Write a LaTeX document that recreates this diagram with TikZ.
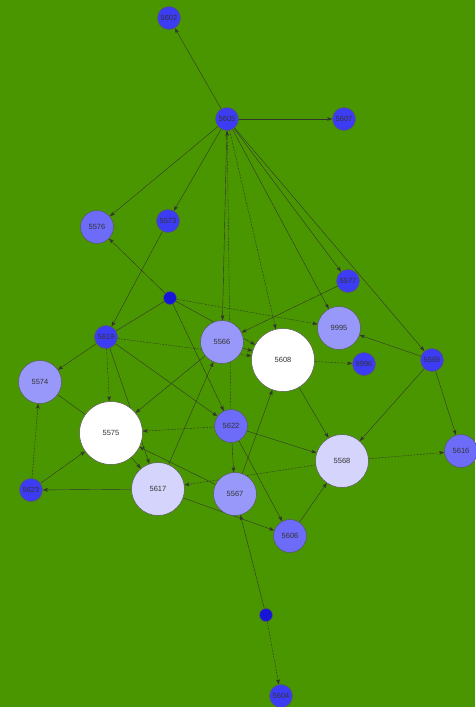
\documentclass[tikz,border=0pt]{standalone}
\usepackage{fontspec}
\setmainfont{Liberation Sans}
\usetikzlibrary{arrows.meta}

\definecolor{field}{RGB}{74,150,0}
\definecolor{deg1}{RGB}{60,60,245}
\definecolor{deg2}{RGB}{108,108,248}
\definecolor{deg3}{RGB}{152,152,250}
\definecolor{deg4}{RGB}{212,212,252}
\definecolor{seed}{RGB}{22,22,215}
\definecolor{wire}{RGB}{50,55,45}

% edges go under the vertices
\pgfdeclarelayer{wires}
\pgfsetlayers{wires,main}

\tikzset{
  vtx/.style={circle,draw=black!65,line width=0.5pt,inner sep=0pt,
    font=\fontsize{7.5}{8}\selectfont,text=black!80},
  tiny/.style={vtx,minimum size=13pt,fill=seed},
  small/.style={vtx,minimum size=23pt,fill=deg1},
  mid/.style={vtx,minimum size=33pt,fill=deg2},
  big/.style={vtx,minimum size=43pt,fill=deg3},
  bigger/.style={vtx,minimum size=53pt,fill=deg4},
  huge/.style={vtx,minimum size=63pt,fill=white},
  link/.style={draw=wire,line width=0.4pt,-{Stealth[length=5pt,width=3.6pt,inset=1pt]}},
  dlink/.style={link,dash pattern=on 2pt off 1.2pt},
  bare/.style={draw=wire,line width=0.4pt}
}

\begin{document}
\begin{tikzpicture}[x=1pt,y=-1pt]
  \useasboundingbox (0,0) rectangle (475,707);

  % vertices
  \node[small]  (n5602) at (169,18)  {5602};
  \node[small]  (n5605) at (227,119) {5605};
  \node[small]  (n5607) at (344,119) {5607};
  \node[mid]    (n5576) at (97,227)  {5576};
  \node[small]  (n5573) at (168,221) {5573};
  \node[small]  (n5577) at (348,281) {5577};
  \node[tiny]   (nx1)   at (170,298) {};
  \node[big]    (n9995) at (339,328) {9995};
  \node[small]  (n5619) at (106,337) {5619};
  \node[big]    (n5566) at (222,342) {5566};
  \node[huge]   (n5608) at (283,360) {5608};
  \node[small]  (n9996) at (364,364) {9996};
  \node[small]  (n5565) at (432,360) {5565};
  \node[big]    (n5574) at (40,382)  {5574};
  \node[huge]   (n5575) at (111,433) {5575};
  \node[mid]    (n5622) at (231,426) {5622};
  \node[bigger] (n5568) at (342,461) {5568};
  \node[mid]    (n5616) at (461,451) {5616};
  \node[small]  (n5623) at (31,490)  {5623};
  \node[bigger] (n5617) at (158,489) {5617};
  \node[big]    (n5567) at (235,494) {5567};
  \node[mid]    (n5606) at (290,536) {5606};
  \node[tiny]   (nx2)   at (266,615) {};
  \node[small]  (n5604) at (281,696) {5604};

  \begin{pgfonlayer}{wires}
    \fill[field] (0,0) rectangle (475,707);
    % directed edges
    \foreach \a/\b in {5605/5602,5605/5607,5605/5576,5605/5573,5605/5566,
        5605/5577,5605/9995,5605/5565,5573/5619,x1/5576,x1/5622,x1/5608,
        5619/5574,5619/5622,5619/5617,5566/5608,5566/5575,5577/5566,
        5565/9995,5565/5568,5565/5616,5623/5575,5617/5623,5617/5566,
        5617/5606,5575/5617,5567/5575,5567/5608,5608/5568,5622/5567,
        5622/5606,5622/5568,5606/5568,x2/5567}
      \path[link] (n\a) -- (n\b);
    \foreach \a/\b in {5605/5608,5622/5605,x1/9995,5619/5608,5619/5575,
        5623/5574,5622/5575,5568/5617,5568/5616,5608/9996,x2/5604}
      \path[dlink] (n\a) -- (n\b);
    % edges with no visible head
    \path[bare] (nx1) -- (n5619);
    \path[bare] (n5574) -- (n5575);
  \end{pgfonlayer}
\end{tikzpicture}
\end{document}
